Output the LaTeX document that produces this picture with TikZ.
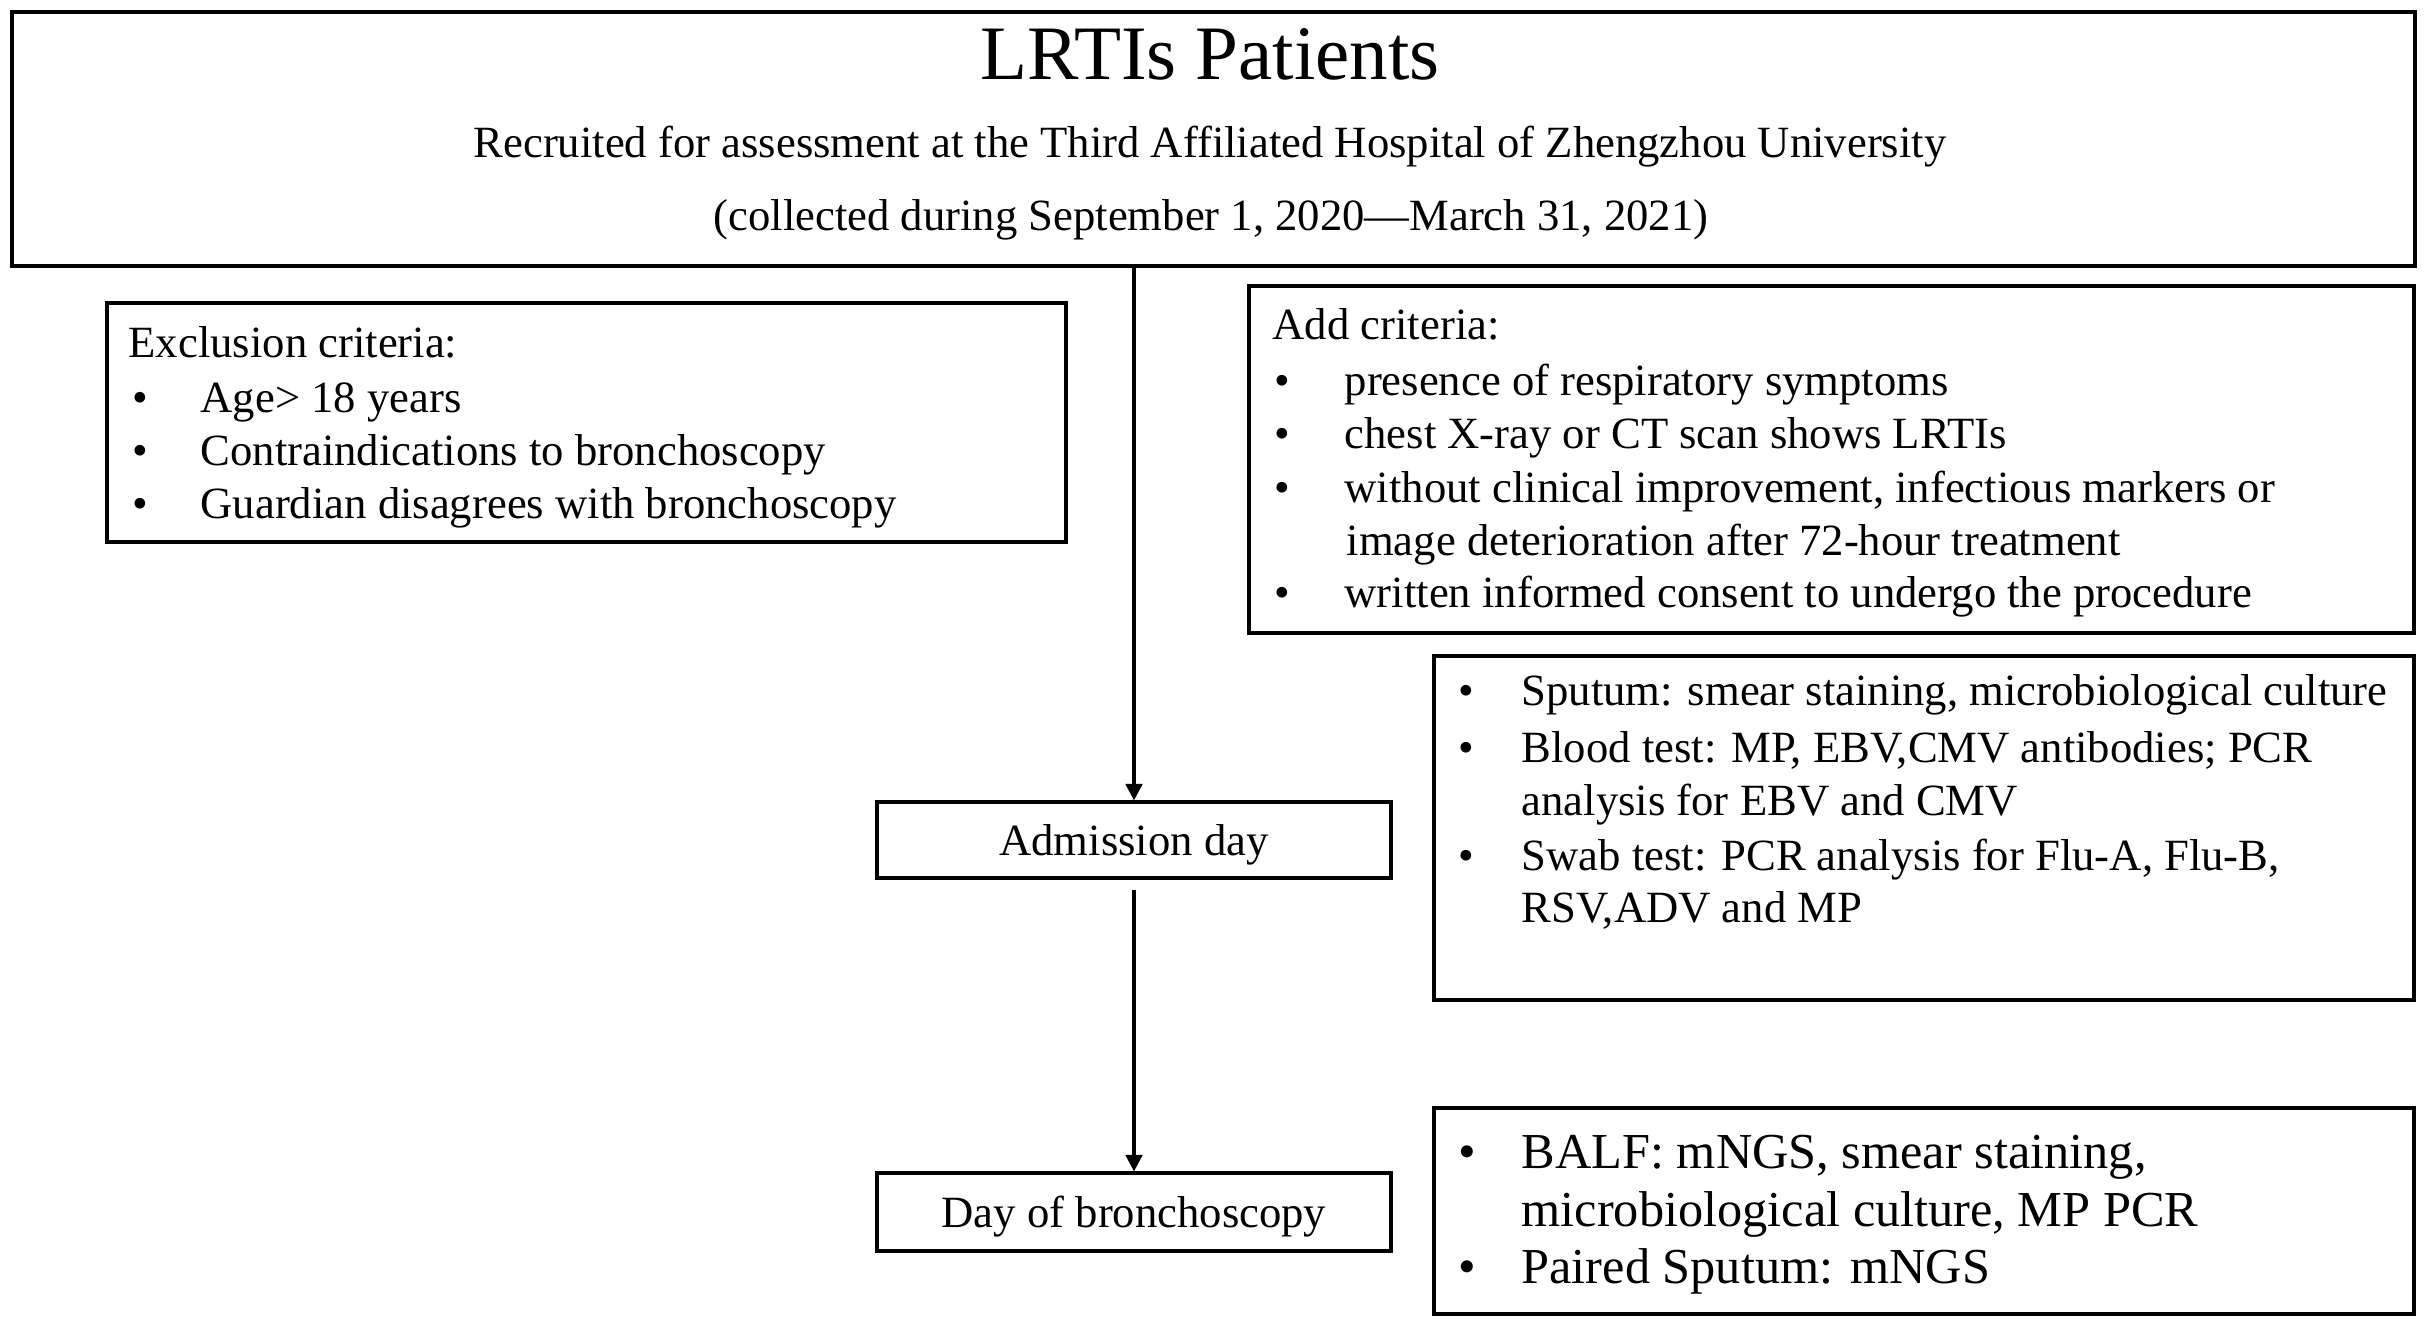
\documentclass[tikz,border=0pt]{standalone}
\usepackage{fontspec}
\setmainfont{Liberation Serif}
\usetikzlibrary{arrows.meta}
\begin{document}
\begin{tikzpicture}[x=0.3pt,y=-0.3pt,
  box/.style={draw, line width=0.95pt, rectangle, inner sep=0pt},
  wh/.style 2 args={minimum width=#1*0.3pt, minimum height=#2*0.3pt},
  body/.style={font=\fontsize{13.4pt}{16pt}\selectfont},
  big/.style={font=\fontsize{15.1pt}{18pt}\selectfont},
  txt/.style={anchor=base west, inner sep=0pt, body},
  ctr/.style={anchor=base, inner sep=0pt},
  arr/.style={line width=1.05pt, -{Triangle[length=5pt,width=5pt]}}
]
\useasboundingbox (0,0) rectangle (2425,1327);
\newcommand\bul[2]{\makebox[#1][l]{•}#2}

% top box
\node[box, line width=1.2pt, wh={2403}{254}] (top) at (1213.5,139) {};
\node[ctr, font=\fontsize{23.1pt}{26pt}\selectfont] (title) at (1210,79) {LRTIs Patients};
\node[ctr, body] (rec) at (1210,157) {Recruited for assessment at the Third Affiliated Hospital of Zhengzhou University};
\node[ctr, body] (col) at (1211,230) {(collected during September 1, 2020—March 31, 2021)};

% exclusion box
\node[box, wh={959}{239}] (excl) at (586.5,422.5) {};
\node[txt] (e0) at (128,357) {Exclusion criteria:};
\node[txt] (e1) at (132,412) {\bul{20.4pt}{Age> 18 years}};
\node[txt] (e2) at (132,465) {\bul{20.4pt}{Contraindications to bronchoscopy}};
\node[txt] (e3) at (132,518) {\bul{20.4pt}{Guardian disagrees with bronchoscopy}};

% add criteria box
\node[box, wh={1165}{347}] (add) at (1831.5,459.5) {};
\node[txt] (a0) at (1272,339) {Add criteria:};
\node[txt] (a1) at (1274,395) {\bul{21pt}{presence of respiratory symptoms}};
\node[txt] (a2) at (1274,448) {\bul{21pt}{chest X-ray or CT scan shows LRTIs}};
\node[txt] (a3) at (1274,502) {\bul{21pt}{without clinical improvement, infectious markers or}};
\node[txt] (a4) at (1346,555) {image deterioration after 72-hour treatment};
\node[txt] (a5) at (1274,607) {\bul{21pt}{written informed consent to undergo the procedure}};

% sputum box
\node[box, wh={980}{344}] (tests) at (1924,828) {};
\node[txt] (s1) at (1458,705) {\bul{18.9pt}{Sputum: smear staining, microbiological culture}};
\node[txt] (s2) at (1458,762) {\bul{18.9pt}{Blood test: MP, EBV,CMV antibodies; PCR}};
\node[txt] (s3) at (1521,815) {analysis for EBV and CMV};
\node[txt] (s4) at (1458,870) {\bul{18.9pt}{Swab test: PCR analysis for Flu-A, Flu-B,}};
\node[txt] (s5) at (1521,922) {RSV,ADV and MP};

% timeline boxes
\node[box, wh={514}{76}, body, text height=10pt, text depth=1pt] (adm) at (1134,840) {Admission day};
\node[box, wh={514}{78}, body, text height=10pt, text depth=1pt] (bron) at (1134,1212) {Day of bronchoscopy};

% BALF box
\node[box, wh={980}{206}] (balf) at (1924,1211) {};
\node[txt, big] (b1) at (1458,1168) {\bul{18.9pt}{BALF: mNGS, smear staining,}};
\node[txt, big] (b2) at (1521,1226) {microbiological culture, MP PCR};
\node[txt, big] (b3) at (1458,1283) {\bul{18.9pt}{Paired Sputum: mNGS}};

% connectors
\draw[arr] (adm.north |- top.south) -- (adm.north);
\draw[arr] ([yshift=-3pt]adm.south) -- (bron.north);
\end{tikzpicture}
\end{document}
